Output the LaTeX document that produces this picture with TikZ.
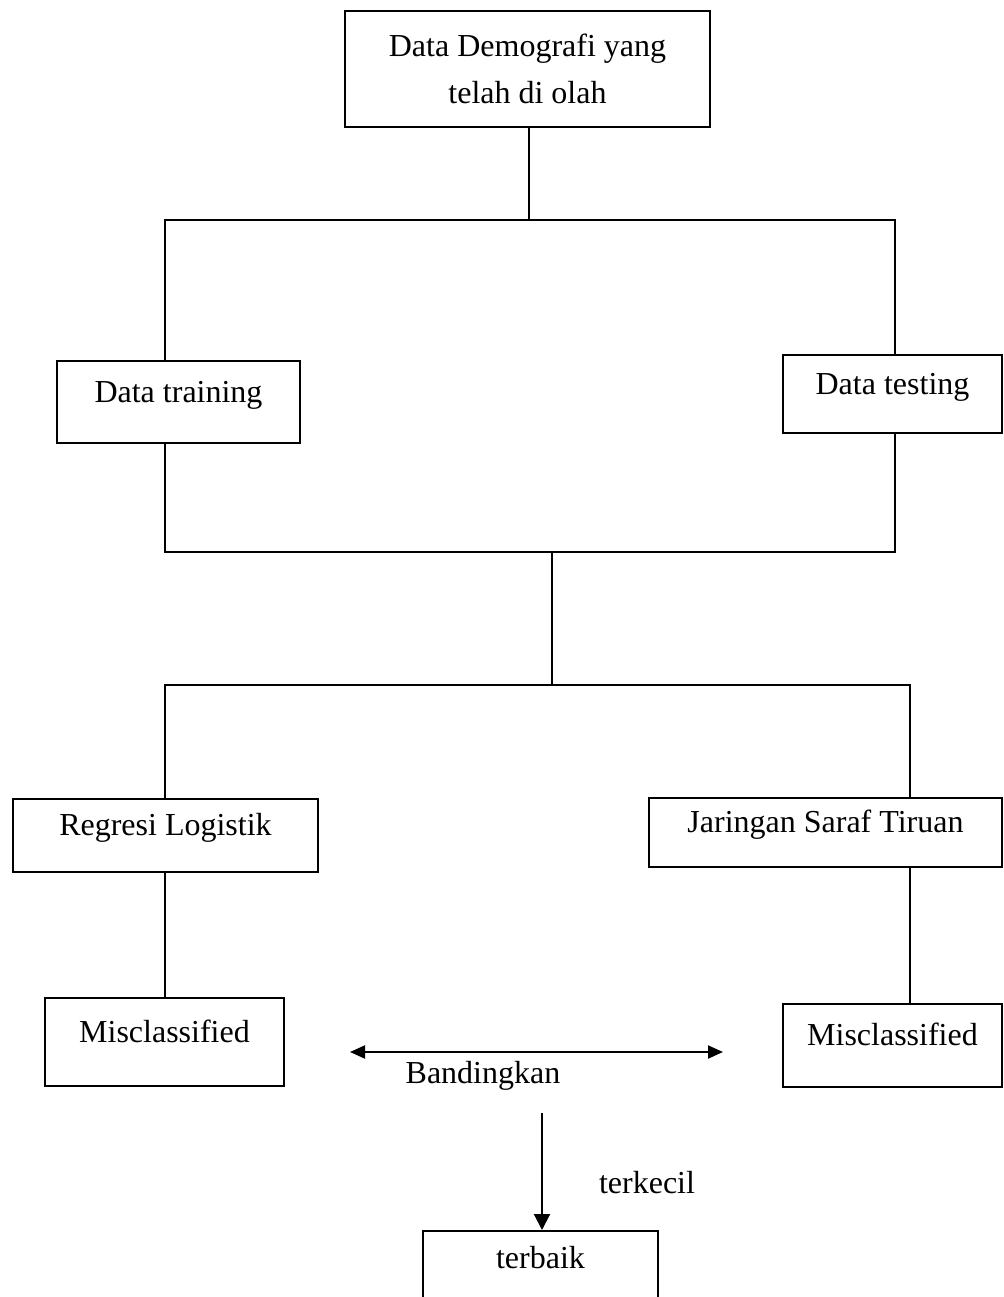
\documentclass[tikz,border=0pt]{standalone}
\usepackage{fontspec}
\setmainfont{Liberation Serif}
\usetikzlibrary{arrows.meta}
\tikzset{
  kotak/.style={draw, line width=1pt, inner sep=0pt},
  garis/.style={line width=1pt},
  ujung/.style={line width=1pt, {Triangle[length=7.5pt,width=6.5pt]}-{Triangle[length=7.5pt,width=6.5pt]}},
  panah/.style={line width=1pt, -{Triangle[length=8pt,width=8pt]}}
}
\begin{document}
\begin{tikzpicture}[x=0.5pt, y=-0.5pt, font=\fontsize{16}{23.5}\selectfont]
  \useasboundingbox (0,0) rectangle (1003,1297);
  \clip (0,0) rectangle (1003,1297);
  \node[kotak, align=center, minimum width=182.5pt, minimum height=58pt] (atas) at (527.5,69) {Data Demografi yang\\telah di olah};
  \node[kotak, minimum width=121.5pt, text height=20.5pt, text depth=20.5pt] (training) at (178.5,402) {Data training};
  \node[kotak, minimum width=109.5pt, text height=19.5pt, text depth=19.5pt] (testing) at (892.5,394) {Data testing};
  \node[kotak, minimum width=152.5pt, text height=18.25pt, text depth=18.25pt] (regresi) at (165.5,835.5) {Regresi Logistik};
  \node[kotak, minimum width=176.5pt, text height=17.25pt, text depth=17.25pt] (jaringan) at (825.5,832.5) {Jaringan Saraf Tiruan};
  \node[kotak, minimum width=119.5pt, text height=22pt, text depth=22pt] (miskiri) at (164.5,1042) {Misclassified};
  \node[kotak, minimum width=109.5pt, text height=20.75pt, text depth=20.75pt] (miskanan) at (892.5,1045.5) {Misclassified};
  \node[kotak, minimum width=117.5pt, text height=18.5pt, text depth=18.5pt] (terbaik) at (540.5,1268) {terbaik};
  \node[anchor=base] (banding) at (483,1083) {Bandingkan};
  \node[anchor=base] (kecil) at (647,1193) {terkecil};

  \coordinate (pisah) at (529,220);
  \coordinate (pk) at (165,220);
  \coordinate (pn) at (895,220);
  \coordinate (gk) at (165,552);
  \coordinate (gn) at (895,552);
  \coordinate (gabung) at (552,552);
  \coordinate (bagi) at (552,685);
  \coordinate (bk) at (165,685);
  \coordinate (bn) at (910,685);
  \draw[garis] (atas.south -| pisah) -- (pisah);
  \draw[garis] (training.north -| pk) -- (pk) -- (pn) -- (testing.north -| pn);
  \draw[garis] (training.south -| gk) -- (gk) -- (gn) -- (testing.south -| gn);
  \draw[garis] (gabung) -- (bagi);
  \draw[garis] (regresi.north -| bk) -- (bk) -- (bn) -- (jaringan.north -| bn);
  \draw[garis] (regresi.south -| bk) -- (miskiri.north -| bk);
  \draw[garis] (jaringan.south -| bn) -- (miskanan.north -| bn);

  \coordinate (bandkiri) at (350,1052);
  \coordinate (bandkanan) at (723,1052);
  \coordinate (turun) at (542,1113);
  \draw[ujung] (bandkiri) -- (bandkanan);
  \draw[panah] (turun) -- (terbaik.north -| turun);
\end{tikzpicture}
\end{document}
